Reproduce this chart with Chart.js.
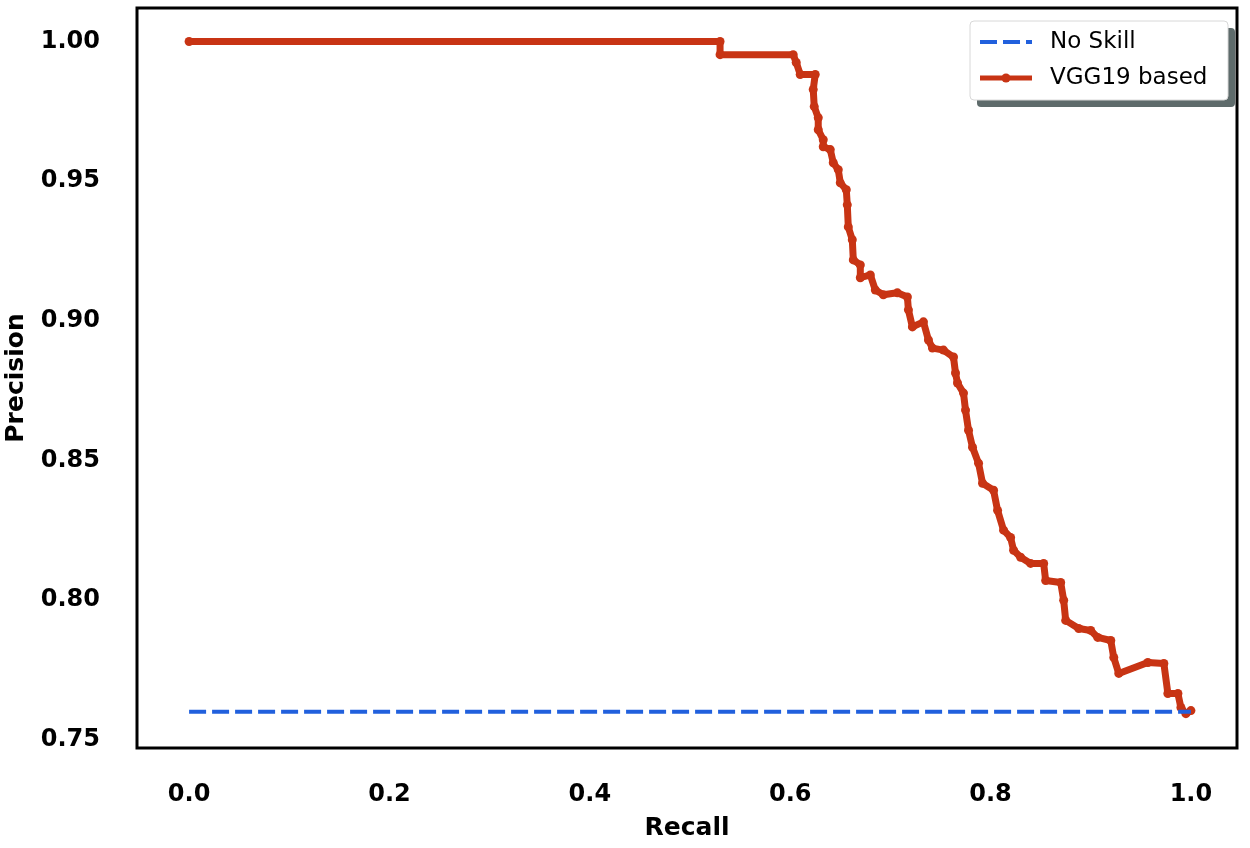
<!DOCTYPE html>
<html>
<head>
<meta charset="utf-8">
<script src="https://cdn.jsdelivr.net/npm/chart.js@4"></script>
<style>
  html, body { margin: 0; padding: 0; background: #fff; }
  #wrap { width: 1250px; height: 848px; }
</style>
</head>
<body>
<div id="wrap"><canvas id="prChart"></canvas></div>
<script>
// Precision-recall curve values
const recallVgg = [
    0.000, 0.530, 0.530, 0.603, 0.606, 0.610, 0.625, 0.623, 0.624, 0.628,
    0.628, 0.633, 0.633, 0.640, 0.643, 0.648, 0.650, 0.656, 0.657, 0.658,
    0.662, 0.663, 0.670, 0.670, 0.680, 0.685, 0.693, 0.707, 0.717, 0.718,
    0.722, 0.733, 0.738, 0.742, 0.753, 0.763, 0.765, 0.767, 0.773, 0.775,
    0.778, 0.782, 0.788, 0.792, 0.803, 0.807, 0.813, 0.820, 0.823, 0.830,
    0.840, 0.853, 0.855, 0.870, 0.873, 0.875, 0.888, 0.900, 0.907, 0.920,
    0.923, 0.928, 0.957, 0.973, 0.977, 0.987, 0.990, 0.995, 1.000
];
const precisionVgg = [
    1.0000, 1.0000, 0.9953, 0.9953, 0.9925, 0.9882, 0.9882, 0.9828, 0.9767, 0.9727,
    0.9684, 0.9648, 0.9623, 0.9613, 0.9566, 0.9541, 0.9494, 0.9469, 0.9415, 0.9336,
    0.9290, 0.9218, 0.9200, 0.9154, 0.9164, 0.9110, 0.9093, 0.9100, 0.9085, 0.9039,
    0.8978, 0.8996, 0.8931, 0.8902, 0.8895, 0.8870, 0.8813, 0.8777, 0.8741, 0.8680,
    0.8608, 0.8547, 0.8490, 0.8418, 0.8393, 0.8321, 0.8250, 0.8224, 0.8178, 0.8153,
    0.8131, 0.8131, 0.8070, 0.8063, 0.7999, 0.7927, 0.7898, 0.7891, 0.7866, 0.7855,
    0.7794, 0.7737, 0.7776, 0.7773, 0.7665, 0.7665, 0.7615, 0.7593, 0.7604
];
const noSkillRecall = [0, 1];
const noSkillPrecision = [0.76, 0.76];

const xTickValues = [0.0, 0.2, 0.4, 0.6, 0.8, 1.0];
const yTickValues = [0.75, 0.80, 0.85, 0.90, 0.95, 1.00];

const RED = "#c83414";
const BLUE = "#2160dd";
const FONT = "'DejaVu Sans', sans-serif";

function toPoints(xs, ys) {
    return xs.map((x, i) => ({ x: x, y: ys[i] }));
}

// Black box round the plot area
const framePlugin = {
    id: "frame",
    afterDatasetsDraw(chart) {
        const { ctx, chartArea: a } = chart;
        ctx.save();
        ctx.strokeStyle = "#000";
        ctx.lineWidth = 3;
        ctx.strokeRect(a.left, a.top, a.right - a.left, a.bottom - a.top);
        ctx.restore();
    }
};

// Legend box in the upper right corner, with a drop shadow
const legendBoxPlugin = {
    id: "legendBox",
    afterDraw(chart) {
        const { ctx } = chart;
        const bx = 970, by = 21, bw = 258, bh = 79;
        ctx.save();
        ctx.fillStyle = "#5e6b6b";
        roundRect(ctx, bx + 7, by + 7, bw, bh, 4);
        ctx.fill();
        ctx.fillStyle = "#fff";
        ctx.strokeStyle = "#d8d8d8";
        ctx.lineWidth = 1;
        roundRect(ctx, bx, by, bw, bh, 4);
        ctx.fill();
        ctx.stroke();

        const sets = chart.data.datasets;
        const rows = [42, 78];
        ctx.font = "23px " + FONT;
        ctx.textBaseline = "middle";
        sets.forEach((ds, i) => {
            const y = rows[i];
            ctx.strokeStyle = ds.borderColor;
            ctx.lineWidth = i === 0 ? 4 : 5;
            ctx.setLineDash(ds.borderDash || []);
            ctx.beginPath();
            ctx.moveTo(980, y);
            ctx.lineTo(1032, y);
            ctx.stroke();
            ctx.setLineDash([]);
            if (ds.pointRadius > 0) {
                ctx.fillStyle = ds.borderColor;
                ctx.beginPath();
                ctx.arc(1006, y, 4.5, 0, Math.PI * 2);
                ctx.fill();
            }
            ctx.fillStyle = "#000";
            ctx.fillText(ds.label, 1050, y);
        });
        ctx.restore();
    }
};

function roundRect(ctx, x, y, w, h, r) {
    ctx.beginPath();
    ctx.moveTo(x + r, y);
    ctx.lineTo(x + w - r, y);
    ctx.quadraticCurveTo(x + w, y, x + w, y + r);
    ctx.lineTo(x + w, y + h - r);
    ctx.quadraticCurveTo(x + w, y + h, x + w - r, y + h);
    ctx.lineTo(x + r, y + h);
    ctx.quadraticCurveTo(x, y + h, x, y + h - r);
    ctx.lineTo(x, y + r);
    ctx.quadraticCurveTo(x, y, x + r, y);
    ctx.closePath();
}

const ctx = document.getElementById("prChart").getContext("2d");
new Chart(ctx, {
    type: "scatter",
    data: {
        datasets: [
            {
                label: "No Skill",
                data: toPoints(noSkillRecall, noSkillPrecision),
                showLine: true,
                borderColor: BLUE,
                borderWidth: 4,
                borderDash: [17, 6],
                pointRadius: 0
            },
            {
                label: "VGG19 based",
                data: toPoints(recallVgg, precisionVgg),
                showLine: true,
                borderColor: RED,
                backgroundColor: RED,
                borderWidth: 7,
                borderJoinStyle: "round",
                borderCapStyle: "round",
                pointRadius: 4.5,
                pointBorderWidth: 0,
                pointBackgroundColor: RED
            }
        ]
    },
    options: {
        responsive: true,
        maintainAspectRatio: false,
        animation: false,
        layout: { padding: { top: 8, right: 13, left: 0, bottom: 0 } },
        plugins: {
            legend: { display: false },
            tooltip: { enabled: false }
        },
        scales: {
            x: {
                type: "linear",
                min: -0.052,
                max: 1.046,
                afterFit: s => { s.height = 100; s.paddingLeft = 0; s.paddingRight = 0; },
                afterBuildTicks: s => { s.ticks = xTickValues.map(v => ({ value: v })); },
                grid: { display: false, drawTicks: false },
                border: { display: false },
                ticks: {
                    padding: 32,
                    color: "#000",
                    font: { family: FONT, size: 24, weight: "bold" },
                    callback: v => v.toFixed(1)
                },
                title: {
                    display: true,
                    text: "Recall",
                    color: "#000",
                    padding: { top: 0, bottom: 5 },
                    font: { family: FONT, size: 25, weight: "bold" }
                }
            },
            y: {
                type: "linear",
                min: 0.747,
                max: 1.012,
                afterFit: s => { s.width = 137; s.paddingTop = 0; s.paddingBottom = 0; },
                afterBuildTicks: s => { s.ticks = yTickValues.map(v => ({ value: v })); },
                grid: { display: false, drawTicks: false },
                border: { display: false },
                ticks: {
                    padding: 37,
                    color: "#000",
                    font: { family: FONT, size: 24, weight: "bold" },
                    callback: v => v.toFixed(2)
                },
                title: {
                    display: true,
                    text: "Precision",
                    color: "#000",
                    padding: { top: 1, bottom: 0 },
                    font: { family: FONT, size: 25, weight: "bold" }
                }
            }
        }
    },
    plugins: [framePlugin, legendBoxPlugin]
});
</script>
</body>
</html>
